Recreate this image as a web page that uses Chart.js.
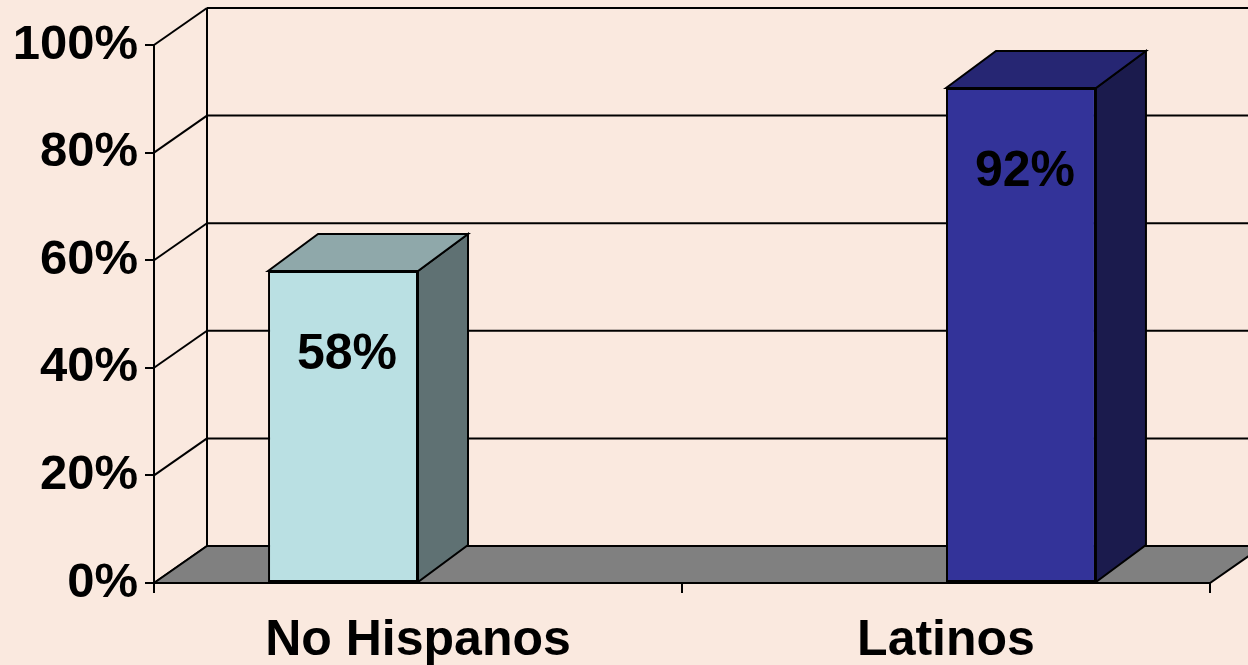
<!DOCTYPE html>
<html>
<head>
<meta charset="utf-8">
<script src="https://cdn.jsdelivr.net/npm/chart.js@4/dist/chart.umd.min.js"></script>
<style>
html, body { margin: 0; padding: 0; background: #FAE9DF; }
#wrap { width: 1248px; height: 665px; }
</style>
</head>
<body>
<div id="wrap"><canvas id="c"></canvas></div>
<script>
var categories = ['No Hispanos', 'Latinos'];
var values = [58, 92];
var yTicks = [0, 20, 40, 60, 80, 100];

var frontColors = ['#BAE0E3', '#333399'];
var sideColors = ['#5F7173', '#1B1B4D'];
var topColors = ['#8FA8AA', '#262673'];

var family = "'Liberation Sans', Arial, sans-serif";

// one dataset per bar so each bar sits in its own slot of the category
var datasets = values.map(function (v, i) {
    return {
        data: values.map(function (w, j) { return j === i ? w : null; }),
        backgroundColor: frontColors[i],
        borderColor: '#000',
        borderWidth: 2,
        borderSkipped: false
    };
});

function poly(ctx, pts, fill) {
    ctx.beginPath();
    ctx.moveTo(pts[0][0], pts[0][1]);
    for (var k = 1; k < pts.length; k++) ctx.lineTo(pts[k][0], pts[k][1]);
    ctx.closePath();
    if (fill) { ctx.fillStyle = fill; ctx.fill(); }
    ctx.stroke();
}

function line(ctx, x1, y1, x2, y2) {
    ctx.beginPath();
    ctx.moveTo(x1, y1);
    ctx.lineTo(x2, y2);
    ctx.stroke();
}

var threeD = {
    id: 'threeD',
    beforeDraw: function (chart) {
        var ctx = chart.ctx;
        ctx.save();
        ctx.fillStyle = '#FAE9DF';
        ctx.fillRect(0, 0, chart.width, chart.height);
        ctx.restore();
    },
    beforeDatasetsDraw: function (chart) {
        var ctx = chart.ctx, a = chart.chartArea, ys = chart.scales.y;
        var dx = 53, dy = -37;
        var bl = a.left + dx, br = a.right + dx;
        ctx.save();
        ctx.strokeStyle = '#000';
        ctx.lineWidth = 2;
        yTicks.forEach(function (v) {
            var y = ys.getPixelForValue(v);
            line(ctx, a.left, y, bl, y + dy);
            line(ctx, bl, y + dy, br, y + dy);
        });
        line(ctx, bl, ys.getPixelForValue(yTicks[yTicks.length - 1]) + dy, bl, a.bottom + dy);
        poly(ctx, [[a.left, a.bottom], [bl, a.bottom + dy], [br, a.bottom + dy], [a.right, a.bottom]], '#808080');
        ctx.restore();
    },
    afterDatasetsDraw: function (chart) {
        var ctx = chart.ctx;
        var dx = 50, dy = -37;
        ctx.save();
        ctx.strokeStyle = '#000';
        ctx.lineWidth = 2;
        values.forEach(function (v, i) {
            var el = chart.getDatasetMeta(i).data[i];
            var l = el.x - el.width / 2, r = el.x + el.width / 2, t = el.y, b = el.base;
            poly(ctx, [[r, t], [r + dx, t + dy], [r + dx, b + dy], [r, b]], sideColors[i]);
            poly(ctx, [[l, t], [l + dx, t + dy], [r + dx, t + dy], [r, t]], topColors[i]);
            ctx.fillStyle = '#000';
            ctx.font = 'bold 50px ' + family;
            ctx.textAlign = 'center';
            ctx.textBaseline = 'middle';
            ctx.fillText(v + '%', el.x + 4, t + 84);
        });
        ctx.restore();
    }
};

new Chart(document.getElementById('c'), {
    type: 'bar',
    data: { labels: categories, datasets: datasets },
    options: {
        responsive: true,
        maintainAspectRatio: false,
        animation: false,
        categoryPercentage: 0.568,
        barPercentage: 1.0,
        layout: { padding: { top: 45, right: 38, left: 0, bottom: 0 } },
        plugins: { legend: { display: false }, tooltip: { enabled: false } },
        scales: {
            x: {
                grid: { display: true, drawOnChartArea: false, offset: true, tickLength: 10, color: '#000', lineWidth: 2 },
                border: { display: true, color: '#000', width: 2 },
                ticks: { font: { family: family, size: 50, weight: 'bold' }, color: '#000', padding: 18, maxRotation: 0 },
                afterFit: function (s) { s.height = 82; }
            },
            y: {
                min: 0,
                max: 100,
                afterBuildTicks: function (s) { s.ticks = yTicks.map(function (v) { return { value: v }; }); },
                grid: { display: true, drawOnChartArea: false, tickLength: 9, color: '#000', lineWidth: 2 },
                border: { display: true, color: '#000', width: 2 },
                ticks: { font: { family: family, size: 49, weight: 'bold' }, color: '#000', padding: 7, callback: function (v) { return v + '%'; } },
                afterFit: function (s) { s.width = 154; }
            }
        }
    },
    plugins: [threeD]
});
</script>
</body>
</html>
